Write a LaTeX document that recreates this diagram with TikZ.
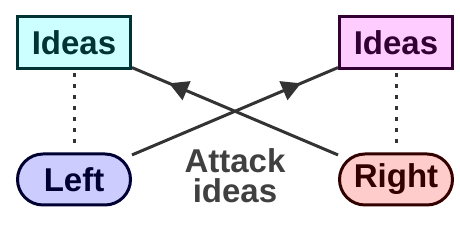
\documentclass[tikz,border=0pt]{standalone}
\usepackage{fontspec}
\setmainfont{Liberation Sans}
\usepackage{xcolor}
\usepackage{tikz}
\usetikzlibrary{calc,arrows.meta}
\usetikzlibrary{positioning,decorations.markings}

\definecolor{ideaLfill}{HTML}{CCFFFF}
\definecolor{ideaLdraw}{HTML}{003333}
\definecolor{ideaRfill}{HTML}{FFCCFF}
\definecolor{ideaRdraw}{HTML}{330033}
\definecolor{leftfill}{HTML}{CCCCFF}
\definecolor{leftdraw}{HTML}{000033}
\definecolor{rightfill}{HTML}{FFCCCC}
\definecolor{rightdraw}{HTML}{330000}
\definecolor{linkgray}{HTML}{333333}
\definecolor{notegray}{HTML}{404040}

\begin{document}
\begin{tikzpicture}[
        idea/.style={draw, line width=1.5pt, minimum width=56.5pt, minimum height=26pt, inner sep=0pt, font=\fontsize{16.5}{18}\selectfont\bfseries},
        side/.style={idea, rounded corners=12.75pt, minimum height=25.5pt},
        attackline/.style={line width=1.5pt, draw=linkgray, postaction={decorate},
            decoration={markings, mark=at position 0.82 with {\arrow[linkgray]{Triangle[length=9.5pt,width=10pt]}}}},
        tie/.style={line width=1.5pt, draw=linkgray, dash pattern=on 2pt off 3.5pt, shorten <=1.5pt, shorten >=1.5pt},
        note/.style={align=center, text=notegray, font=\fontsize{16.5}{15}\selectfont\bfseries}
    ]
        \useasboundingbox (0,0) rectangle (230pt,114pt);

        \node[idea, fill=ideaLfill, draw=ideaLdraw, text=ideaLdraw] (ideasL) at (37pt,92.5pt) {Ideas};
        \node[idea, fill=ideaRfill, draw=ideaRdraw, text=ideaRdraw, right=103pt of ideasL] (ideasR) {Ideas};
        \node[side, fill=leftfill, draw=leftdraw, text=leftdraw, below=41pt of ideasL] (left) {Left};
        \node[side, fill=rightfill, draw=rightdraw, text=rightdraw, below=41pt of ideasR] (right) {Right};
        \node[note] (attack) at ($(left)!0.5!(right)+(0,2pt)$) {Attack\\ideas};

        \draw[tie] (ideasL) -- (left);
        \draw[tie] (ideasR) -- (right);
        \draw[attackline] (right) -- (ideasL);
        \draw[attackline] (left) -- (ideasR);
    \end{tikzpicture}
\end{document}
